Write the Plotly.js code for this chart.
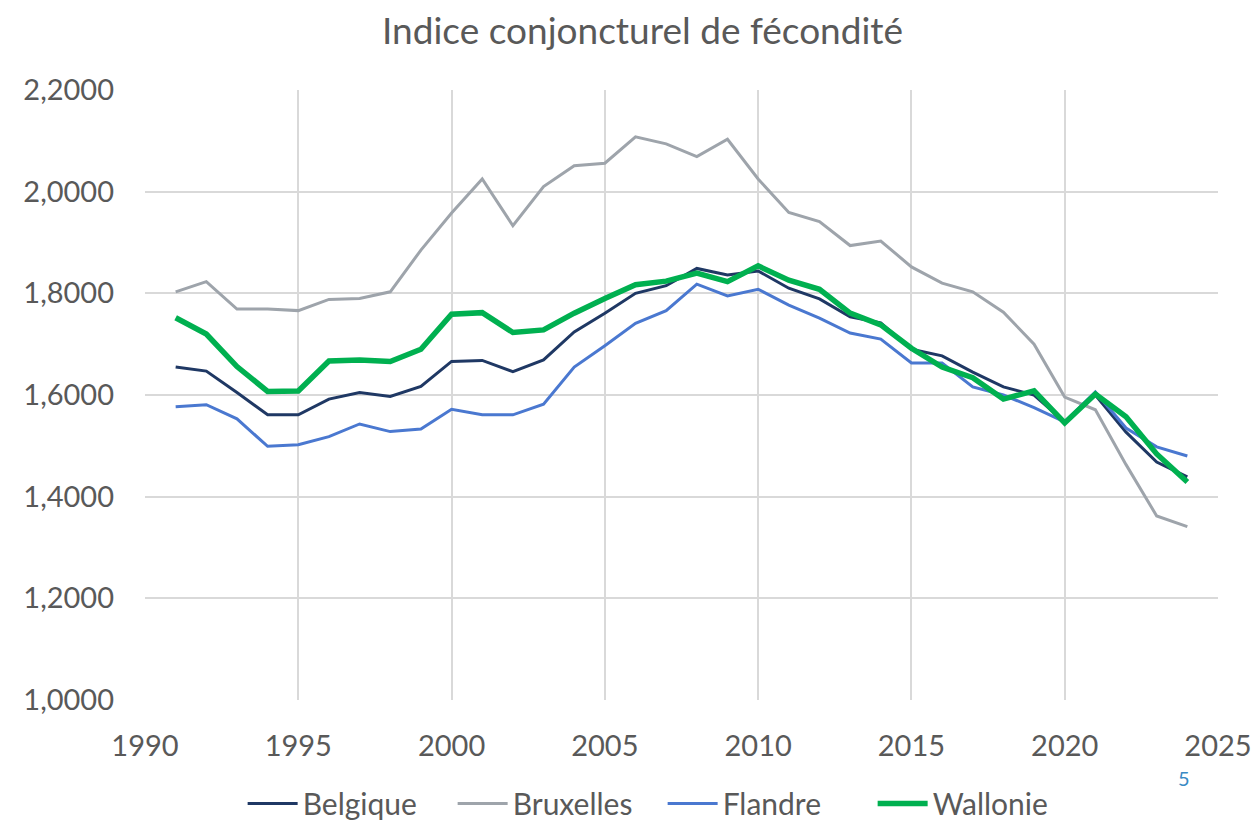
<!DOCTYPE html>
<html>
<head>
<meta charset="utf-8">
<script src="https://cdn.plot.ly/plotly-3.0.1.min.js"></script>
<style>html,body{margin:0;padding:0;background:#fff;}#chart{width:1255px;height:824px;}</style>
</head>
<body>
<div id="chart"></div>
<script>
const years = [1991,1992,1993,1994,1995,1996,1997,1998,1999,2000,2001,2002,2003,2004,2005,2006,2007,2008,2009,2010,2011,2012,2013,2014,2015,2016,2017,2018,2019,2020,2021,2022,2023,2024];
const belgique = [1.655,1.647,1.605,1.561,1.561,1.592,1.605,1.597,1.617,1.666,1.668,1.646,1.669,1.724,1.761,1.800,1.815,1.849,1.836,1.844,1.810,1.789,1.754,1.742,1.690,1.677,1.645,1.616,1.600,1.547,1.600,1.527,1.468,1.439];
const bruxelles = [1.803,1.823,1.769,1.769,1.766,1.788,1.790,1.803,1.885,1.958,2.025,1.933,2.010,2.051,2.056,2.108,2.094,2.069,2.103,2.025,1.959,1.941,1.894,1.903,1.852,1.820,1.803,1.763,1.700,1.596,1.571,1.463,1.362,1.341];
const flandre = [1.577,1.581,1.553,1.499,1.502,1.518,1.543,1.528,1.533,1.572,1.561,1.561,1.582,1.655,1.697,1.741,1.766,1.818,1.795,1.808,1.777,1.751,1.722,1.710,1.663,1.663,1.616,1.600,1.575,1.547,1.606,1.535,1.498,1.480];
const wallonie = [1.752,1.720,1.656,1.607,1.608,1.667,1.669,1.666,1.690,1.759,1.762,1.723,1.728,1.761,1.790,1.817,1.824,1.840,1.823,1.854,1.826,1.808,1.761,1.738,1.692,1.655,1.634,1.592,1.608,1.545,1.602,1.557,1.484,1.429];
const seriesNames = ["Belgique","Bruxelles","Flandre","Wallonie"];
const titleText = "Indice conjoncturel de fécondité";

const FONT = "Lato, 'Open Sans', sans-serif";
const traces = [
  {x: years, y: belgique, name: seriesNames[0], mode: "lines", line: {color: "#1f3864", width: 3}},
  {x: years, y: bruxelles, name: seriesNames[1], mode: "lines", line: {color: "#9ea4ab", width: 3}},
  {x: years, y: flandre, name: seriesNames[2], mode: "lines", line: {color: "#4a78d0", width: 3}},
  {x: years, y: wallonie, name: seriesNames[3], mode: "lines", line: {color: "#00b050", width: 5.5}}
];
const layout = {
  width: 1255, height: 824,
  margin: {l: 145, r: 37, t: 90, b: 124, autoexpand: false},
  paper_bgcolor: "#ffffff", plot_bgcolor: "#ffffff",
  separators: ", ",
  font: {family: FONT, color: "#595959", size: 29},
  title: {text: titleText, font: {family: FONT, size: 37, color: "#595959"}, x: 0.512, xanchor: "center", y: 0.962, yanchor: "middle"},
  xaxis: {range: [1990, 2025], dtick: 5, tick0: 1990, showgrid: true, gridcolor: "#d9d9d9", gridwidth: 1.5,
          zeroline: false, showline: false, ticks: "", tickfont: {size: 29, color: "#595959"}, ticklabelstandoff: 26},
  yaxis: {range: [1.0, 2.2], dtick: 0.2, tick0: 1.0, tickformat: ".4f", showgrid: true, gridcolor: "#d9d9d9", gridwidth: 1.5,
          zeroline: false, showline: false, ticks: "", tickfont: {size: 29, color: "#595959"}, ticklabelstandoff: 30},
  showlegend: true,
  legend: {orientation: "h", xref: "container", yref: "container", x: 0.528, xanchor: "center", y: 0.025, yanchor: "middle",
           font: {size: 30, color: "#595959"}, itemwidth: 50, tracegroupgap: 0, entrywidth: 145, entrywidthmode: "pixels"},
  annotations: [{text: "5", xref: "paper", yref: "paper", x: 0.968, y: -0.128, showarrow: false, font: {size: 20, color: "#3a8ac4"}, xanchor: "center", yanchor: "middle"}]
};
Plotly.newPlot("chart", traces, layout, {displayModeBar: false});
</script>
</body>
</html>
